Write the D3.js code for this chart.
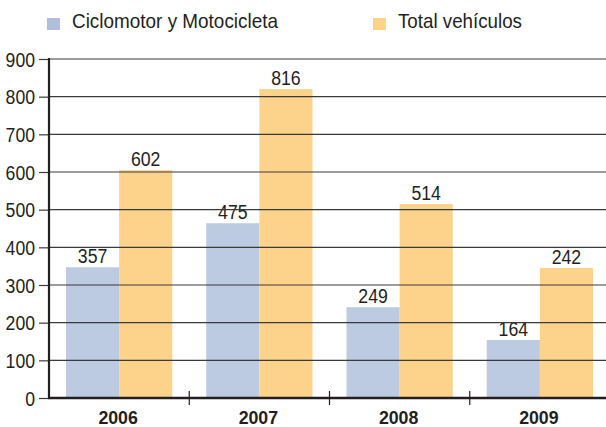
<!DOCTYPE html>
<html><head><meta charset="utf-8">
<script src="https://cdn.jsdelivr.net/npm/d3@7"></script>
<style>
html,body{margin:0;padding:0;background:#fff;}
svg{display:block;}
text{font-family:"Liberation Sans",Arial,sans-serif;fill:#231f20;}
</style></head><body>
<svg id="c" width="606" height="427"></svg>
<script>
const categories = ["2006","2007","2008","2009"];
const seriesNames = ["Ciclomotor y Motocicleta","Total vehículos"];
// bar heights as drawn in the picture
const motoValues = [347, 464, 241, 154];
const totalValues = [605, 820, 515, 345];
// value labels printed above the bars
const motoLabels = ["357","475","249","164"];
const totalLabels = ["602","816","514","242"];
const yTicks = [0,100,200,300,400,500,600,700,800,900];
const colors = ["#bccae2","#fdd38c"];
const legendColors = ["#aebfdd","#fdd38c"];

const svg = d3.select("#c");
const mLeft = 49, mRight = 610, mTop = 59, mBottom = 398;

const x = d3.scaleBand().domain(categories).range([mLeft, mRight]).paddingInner(0).paddingOuter(0);
const x1 = d3.scaleBand().domain([0,1]).range([0, x.bandwidth()]).paddingOuter(0.32).paddingInner(0);
const y = d3.scaleLinear().domain([0,900]).range([mBottom, mTop]);

const data = categories.map((c,i)=>({cat:c, vals:[
  {s:0, v:motoValues[i], l:motoLabels[i]},
  {s:1, v:totalValues[i], l:totalLabels[i]}]}));

// bars
const g = svg.append("g");
data.forEach(d=>{
  g.selectAll(null).data(d.vals).enter().append("rect")
    .attr("x", e=>x(d.cat)+x1(e.s))
    .attr("width", x1.bandwidth())
    .attr("y", e=>y(e.v))
    .attr("height", e=>mBottom - y(e.v))
    .attr("fill", e=>colors[e.s]);
  g.selectAll(null).data(d.vals).enter().append("text")
    .attr("x", e=>x(d.cat)+x1(e.s)+x1.bandwidth()/2)
    .attr("y", e=>y(e.v)-4)
    .attr("text-anchor","middle")
    .attr("font-size", 19.5)
    .attr("textLength", 29.5).attr("lengthAdjust","spacingAndGlyphs")
    .text(e=>e.l);
});

// gridlines over bars
svg.append("g").selectAll("line").data(yTicks.filter(t=>t>0)).enter().append("line")
  .attr("x1", mLeft).attr("x2", 606)
  .attr("y1", d=>y(d)).attr("y2", d=>y(d))
  .attr("stroke", "#3a3a3a").attr("stroke-width", 1.2);

// y axis
const yAxis = d3.axisLeft(y).tickValues(yTicks).tickSize(10).tickPadding(4).tickSizeOuter(0);
const ya = svg.append("g").attr("transform", `translate(${mLeft},0)`).call(yAxis);
ya.select(".domain").remove();
ya.selectAll(".tick line").attr("stroke","#3a3a3a").attr("stroke-width",1.2);
ya.selectAll(".tick text").attr("font-size",19.5).attr("dy","0.36em").attr("fill","#231f20")
  .style("font-family",'"Liberation Sans",Arial,sans-serif')
  .each(function(d){ const s=String(d); d3.select(this).attr("textLength", s.length*9.8).attr("lengthAdjust","spacingAndGlyphs"); });
svg.append("line").attr("x1",mLeft).attr("x2",mLeft).attr("y1",mTop-1).attr("y2",mBottom+1)
  .attr("stroke","#231f20").attr("stroke-width",2.2);

// x axis
svg.append("line").attr("x1",mLeft-1).attr("x2",606).attr("y1",mBottom).attr("y2",mBottom)
  .attr("stroke","#231f20").attr("stroke-width",2.4);
svg.append("g").selectAll("line").data(categories.slice(1)).enter().append("line")
  .attr("x1", d=>x(d)).attr("x2", d=>x(d)).attr("y1", mBottom-7).attr("y2", mBottom+7)
  .attr("stroke","#231f20").attr("stroke-width",1.2);
svg.append("g").selectAll("text").data(categories).enter().append("text")
  .attr("x", d=>x(d)+x.bandwidth()/2 - 1).attr("y", 424)
  .attr("text-anchor","middle").attr("font-size",19).attr("font-weight","bold")
  .attr("textLength", 39.5).attr("lengthAdjust","spacingAndGlyphs")
  .text(d=>d);

// legend
const lg = svg.append("g");
const legX = [47, 373];
const legW = [206, 124];
seriesNames.forEach((n,i)=>{
  lg.append("rect").attr("x",legX[i]).attr("y",18).attr("width",13).attr("height",12).attr("fill",legendColors[i]);
  lg.append("text").attr("x",legX[i]+25).attr("y",28).attr("font-size",21)
    .attr("textLength", legW[i]).attr("lengthAdjust","spacingAndGlyphs").text(n);
});
</script>
</body></html>
